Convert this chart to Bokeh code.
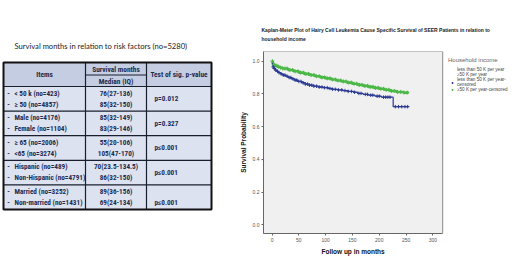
import numpy as np
from bokeh.plotting import figure
from bokeh.layouts import row
from bokeh.models import Range1d, FixedTicker, Legend, LegendItem, PrintfTickFormatter, Title
from bokeh.core.properties import value
from bokeh.embed import file_html
from bokeh.resources import INLINE

# ---------------- data: table ----------------
table_title = "Survival months in relation to risk factors (no=5280)"
header_items = "Items"
header_surv = "Survival months"
header_median = "Median (IQ)"
header_test = "Test of sig. p-value"
items = ["< 50 k (no=423)", "\u2265 50  (no=4857)",
         "Male (no=4176)", "Female (no=1104)",
         "\u2265 65 (no=2006)", "<65 (no=3274)",
         "Hispanic (no=489)", "Non-Hispanic (no=4791)",
         "Married (no=3252)", "Non-married (no=1431)"]
medians = ["76(27-136)", "85(32-150)",
           "85(32-149)", "83(29-146)",
           "55(20-106)", "105(47-170)",
           "70(23.5-134.5)", "86(32-150)",
           "89(36-156)", "69(24-134)"]
p_values = ["p=0.012", "p=0.327", "p\u22640.001", "p\u22640.001", "p\u22640.001"]
p_line = [0.5, 0.5, 0.5, 0.5, 1.0]   # which line of the group the p-value sits on

# ---------------- data: Kaplan-Meier ----------------
km_title = ("Kaplan-Meier Plot of Hairy Cell Leukemia Cause Specific Survival of SEER Patients in relation to\n"
            "household income")
x_label = "Follow up in months"
y_label = "Survival Probability"
legend_title = "Household income"
series_names = ["less than 50 K per year", "\u226550 K per year",
                "less than 50 K per year-\ncensored", "\u226550 K per year-censored"]
x_ticks = [0, 50, 100, 150, 200, 250, 300]
y_ticks = [0.0, 0.2, 0.4, 0.6, 0.8, 1.0]
x_lim = (-16, 318.4)
y_lim = (-0.053, 1.059)

low_t = [0, 1, 2, 4, 6, 9, 12, 16, 20, 25, 30, 36, 42, 48, 55, 62, 70, 78, 86, 95,
         104, 113, 122, 132, 142, 152, 160, 170, 180, 192, 204, 226, 255]
low_s = [1.0, 0.975, 0.965, 0.955, 0.945, 0.938, 0.93, 0.922, 0.915, 0.908, 0.9, 0.892,
         0.884, 0.876, 0.868, 0.86, 0.853, 0.847, 0.842, 0.838, 0.833, 0.828, 0.824,
         0.82, 0.815, 0.81, 0.803, 0.797, 0.792, 0.786, 0.78, 0.722, 0.722]
high_t = [0, 1, 3, 6, 10, 15, 20, 30, 40, 50, 60, 70, 80, 90, 100, 110, 120, 130, 140,
          150, 160, 170, 180, 190, 200, 210, 220, 232, 245, 255]
high_s = [1.0, 0.985, 0.978, 0.972, 0.966, 0.96, 0.955, 0.946, 0.938, 0.93, 0.922, 0.915,
          0.908, 0.901, 0.895, 0.888, 0.882, 0.876, 0.869, 0.862, 0.855, 0.849, 0.843,
          0.837, 0.831, 0.825, 0.818, 0.812, 0.808, 0.808]
low_cens = [2, 4, 7, 10, 13, 17, 21, 24, 28, 32, 35, 39, 43, 46, 50, 54, 58, 62, 66, 70,
            74, 78, 83, 88, 93, 98, 103, 108, 113, 118, 124, 130, 136, 142, 148, 154,
            162, 166, 174, 178, 184, 188, 196, 200, 208, 212, 216, 220, 230, 236, 242,
            248, 253]
high_cens = [0.5, 3, 6, 9, 12, 16, 20, 24, 28, 33, 38, 43, 48, 53, 58, 63, 68, 73, 78,
             83, 88, 93, 98, 103, 108, 113, 118, 123, 128, 133, 138, 143, 148, 153, 158,
             163, 168, 173, 178, 183, 188, 193, 198, 203, 208, 213, 218, 223, 228, 234,
             240, 246, 252]

# ---------------- styling ----------------
TFONT = "Roboto Condensed, Liberation Sans Narrow, Arial Narrow, Lato"
TTFONT = "Lato"
SANS = "Liberation Sans"
NAVY = "#1d2b4f"
BLUE = "#34449e"
BLUE_DOT = "#2a3890"
GREEN = "#4db848"

FT, FB = 51, 233          # frame top / bottom in page pixels (shared by the row)
H = 270
LW = 236                  # table panel width
FL, FR = 259, 441         # KM plot-area left / right in page pixels

def common(fig):
    fig.grid.visible = False
    fig.background_fill_color = "white"
    fig.border_fill_color = "white"
    fig.outline_line_color = None

# ---------------- left: table ----------------
tf = figure(width=LW, height=H, x_range=Range1d(0, LW), y_range=Range1d(FB, FT),
            x_axis_location=None, y_axis_location=None,
            min_border_left=0, min_border_right=0, min_border_top=FT, min_border_bottom=H - FB,
            output_backend="svg", toolbar_location=None)
common(tf)
tf.title.text = table_title
tf.title.text_font = TTFONT
tf.title.text_font_size = "7.6px"
tf.title.text_font_style = "normal"
tf.title.text_color = "#222222"
tf.title.align = "left"
tf.title.offset = 14
tf.title.standoff = 2

L, D1, D2, R = 3, 85, 146, 211
TOP, HB, GH = 62, 86, 24.6
ng = len(p_values)
BOT = HB + GH * ng

tf.quad(left=[L], right=[R], top=[TOP], bottom=[HB], fill_color="#c5cde2", line_color=None)
tf.quad(left=[L], right=[R], top=[HB], bottom=[BOT], fill_color="#dce2f0", line_color=None)
hys = [HB + GH * g for g in range(ng)]
tf.segment(x0=[L] * ng, y0=hys, x1=[R] * ng, y1=hys, line_color="#1a1f2e", line_width=1.2)
tf.segment(x0=[D1], y0=[TOP + 12.5], x1=[D2], y1=[TOP + 12.5], line_color="#1a1f2e", line_width=1)
tf.segment(x0=[D1, D2], y0=[TOP, TOP], x1=[D1, D2], y1=[BOT, BOT], line_color="#1a1f2e", line_width=1.2)
tf.quad(left=[L], right=[R], top=[TOP], bottom=[BOT], fill_color=None, line_color="#111111", line_width=2)

hdr = dict(text_font=value(TFONT), text_font_size="7.4px", text_font_style="bold",
           text_color=NAVY, text_baseline="middle", text_align="center")
tf.text(x=[(L + D1) / 2], y=[(TOP + HB) / 2], text=[header_items], **hdr)
tf.text(x=[(D1 + D2) / 2], y=[TOP + 6.5], text=[header_surv], **hdr)
tf.text(x=[(D1 + D2) / 2], y=[TOP + 18.5], text=[header_median], **hdr)
tf.text(x=[(D2 + R) / 2], y=[(TOP + HB) / 2], text=[header_test], **hdr)

row_y = [HB + (k // 2) * GH + 6.5 + 11 * (k % 2) for k in range(len(items))]
body = dict(text_font=value(TFONT), text_font_size="7.2px", text_font_style="bold",
            text_color=NAVY, text_baseline="middle")
tf.text(x=[L + 5] * len(items), y=row_y, text=["-"] * len(items), text_align="center", **body)
tf.text(x=[14] * len(items), y=row_y, text=items, text_align="left", **body)
tf.text(x=[(D1 + D2) / 2] * len(medians), y=row_y, text=medians, text_align="center", **body)
p_y = [HB + g * GH + 6.5 + 11 * p_line[g] for g in range(ng)]
tf.text(x=[D2 + 8] * ng, y=p_y, text=p_values, text_align="left", **body)

# ---------------- right: Kaplan-Meier (frame runs to the page edge; legend sits in it) ----------------
KW = 520 - LW
px_per_x = (FR - FL) / (x_lim[1] - x_lim[0])
x_end = x_lim[0] + (520 - FL) / px_per_x
p = figure(width=KW, height=H, x_range=Range1d(x_lim[0], x_end), y_range=Range1d(*y_lim),
           min_border_left=FL - LW, min_border_right=0, min_border_top=FT,
           min_border_bottom=H - FB, output_backend="svg", toolbar_location=None)
common(p)

p.title.text = km_title
p.title.text_font = SANS
p.title.text_font_size = "5px"
p.title.text_font_style = "bold"
p.title.text_color = "#222222"
p.title.align = "left"
p.title.offset = -2
p.title.standoff = 20
p.title.text_line_height = 1.5

# plot area
p.quad(left=[x_lim[0]], right=[x_lim[1]], bottom=[y_lim[0]], top=[y_lim[1]],
       fill_color="#f0f0f0", line_color="#8a8a8a", line_width=1)

for ax in (p.xaxis, p.yaxis):
    ax.major_label_text_font_size = "5px"
    ax.major_label_text_color = "#555555"
    ax.major_label_text_font = SANS
    ax.major_tick_out = 2
    ax.major_tick_in = 0
    ax.minor_tick_out = 0
    ax.minor_tick_in = 0
    ax.axis_line_color = "#666666"
    ax.major_tick_line_color = "#666666"
    ax.axis_label_text_font = SANS
    ax.axis_label_text_font_style = "bold"
    ax.axis_label_text_font_size = "6.5px"
    ax.axis_label_text_color = "#111111"
    ax.major_label_standoff = 2
p.xaxis.bounds = x_lim
p.xaxis.ticker = FixedTicker(ticks=x_ticks)
p.yaxis.ticker = FixedTicker(ticks=y_ticks)
p.yaxis.formatter = PrintfTickFormatter(format="%.1f")
p.yaxis.axis_label = y_label
p.yaxis.axis_label_standoff = 3

# x-axis title, centred under the plot area (not under the whole frame)
xt = Title(text=x_label, align="left", offset=58, standoff=3,
           text_font=SANS, text_font_size="6.5px", text_font_style="bold", text_color="#111111")
p.add_layout(xt, "below")

lt, ls = np.array(low_t, float), np.array(low_s)
ht, hs = np.array(high_t, float), np.array(high_s)
lc = np.array(low_cens, float)
hc = np.array(high_cens, float)
lcs = ls[np.searchsorted(lt, lc, side="right") - 1]
hcs = hs[np.searchsorted(ht, hc, side="right") - 1]

r_hi = p.step(ht, hs, mode="after", line_color=GREEN, line_width=2.6)
r_lo = p.step(lt, ls, mode="after", line_color=BLUE, line_width=1.3)
r_hic = p.scatter(hc, hcs, marker="cross", size=4, line_color=GREEN, line_width=1)
r_loc = p.scatter(lc, lcs, marker="cross", size=3.5, line_color=BLUE_DOT, line_width=1)

k_lo = p.line(x=[], y=[], line_color=BLUE, line_width=1.3)
k_hi = p.line(x=[], y=[], line_color=GREEN, line_width=1.3)

legend = Legend(items=[LegendItem(label=series_names[0], renderers=[k_lo]),
                       LegendItem(label=series_names[1], renderers=[k_hi]),
                       LegendItem(label=series_names[2], renderers=[r_loc]),
                       LegendItem(label=series_names[3], renderers=[r_hic])],
                location=(FR - FL + 3, (FB - FT) - 41), title=legend_title)
legend.title_text_font = SANS
legend.title_text_font_size = "6px"
legend.title_text_color = "#666666"
legend.title_text_font_style = "normal"
legend.title_standoff = 4
legend.label_text_font = SANS
legend.label_text_font_size = "4.6px"
legend.label_text_color = "#444444"
legend.label_height = 5
legend.glyph_height = 5
legend.glyph_width = 8
legend.label_standoff = 1
legend.spacing = 0
legend.padding = 1
legend.margin = 0
legend.border_line_color = None
legend.background_fill_alpha = 0
p.add_layout(legend)

layout = row(tf, p, spacing=0)
open("out.html", "w").write(file_html(layout, INLINE))
